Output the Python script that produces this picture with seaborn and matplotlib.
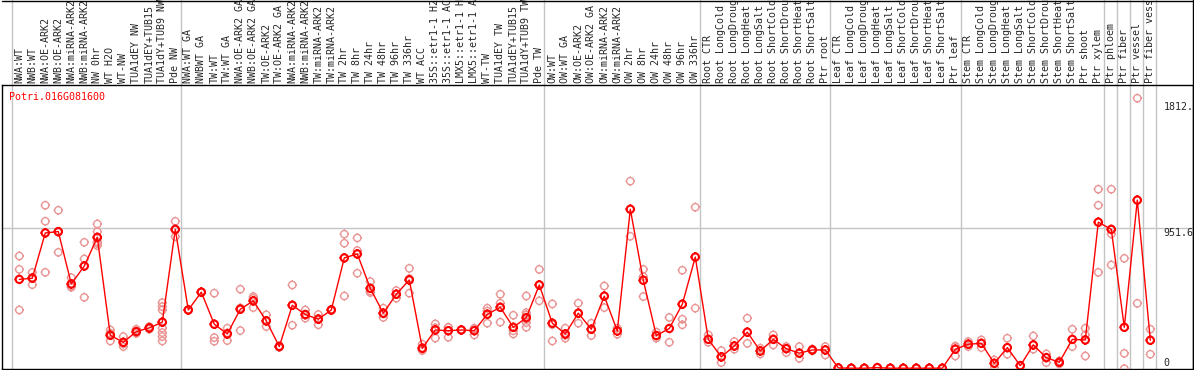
import numpy as np
import pandas as pd
import seaborn as sns
import matplotlib.pyplot as plt
from matplotlib.path import Path
from matplotlib.lines import Line2D
from matplotlib.transforms import blended_transform_factory


gene = 'Potri.016G081600'

labels = [
    'NWA:WT', 'NWB:WT', 'NWA:OE-ARK2', 'NWB:OE-ARK2', 'NWA:miRNA-ARK2', 'NWB:miRNA-ARK2',
    'NW 0hr', 'WT H2O', 'WT-NW', 'TUA1dEY NW', 'TUA1dEY+TUB15', 'TUA1dY+TUB9 NW', 'Pde NW',
    'NWA:WT GA', 'NWBWT GA', 'TW:WT', 'TW:WT GA', 'NWA:OE-ARK2 GA', 'NWB:OE-ARK2 GA',
    'TW:OE-ARK2', 'TW:OE-ARK2 GA', 'NWA:miRNA-ARK2', 'NWB:miRNA-ARK2', 'TW:miRNA-ARK2',
    'TW:miRNA-ARK2', 'TW 2hr', 'TW 8hr', 'TW 24hr', 'TW 48hr', 'TW 96hr', 'TW 336hr',
    'WT ACC', '35S::etr1-1 H2', '35S::etr1-1 AC', 'LMX5::etr1-1 H', 'LMX5::etr1-1 A',
    'WT-TW', 'TUA1dEY TW', 'TUA1dEY+TUB15', 'TUA1dY+TUB9 TW', 'Pde TW',
    'OW:WT', 'OW:WT GA', 'OW:OE-ARK2', 'OW:OE-ARK2 GA', 'OW:miRNA-ARK2', 'OW:miRNA-ARK2',
    'OW 2hr', 'OW 8hr', 'OW 24hr', 'OW 48hr', 'OW 96hr', 'OW 336hr',
    'Root CTR', 'Root LongCold', 'Root LongDroug', 'Root LongHeat', 'Root LongSalt',
    'Root ShortCold', 'Root ShortDrou', 'Root ShortHeat', 'Root ShortSalt', 'Ptr root',
    'Leaf CTR', 'Leaf LongCold', 'Leaf LongDroug', 'Leaf LongHeat', 'Leaf LongSalt',
    'Leaf ShortCold', 'Leaf ShortDrou', 'Leaf ShortHeat', 'Leaf ShortSalt', 'Ptr leaf',
    'Stem CTR', 'Stem LongCold', 'Stem LongDroug', 'Stem LongHeat', 'Stem LongSalt',
    'Stem ShortCold', 'Stem ShortDrou', 'Stem ShortHeat', 'Stem ShortSalt', 'Ptr shoot',
    'Ptr xylem', 'Ptr phloem', 'Ptr fiber', 'Ptr vessel', 'Ptr fiber vess',
]

group_sizes = [13, 28, 12, 10, 10, 11, 1, 1, 1, 1]

means = [
    604, 612, 920, 929, 573, 695, 890, 224, 176, 249, 274, 313, 944,
    396, 517, 299, 233, 401, 458, 322, 147, 428, 365, 333, 396, 750, 777, 543,
    374, 503, 600, 136, 260, 255, 260, 255, 367, 414, 278, 344, 566,
    306, 233, 374, 265, 490, 253, 1081, 598, 222, 270, 435, 756,
    196, 77, 151, 245, 117, 196, 133, 102, 124, 124,
    2, 0, 0, 4, 0, 0, 0, 0, 0, 129,
    163, 169, 33, 140, 17, 158, 72, 40, 196, 192, 993,
    944, 278, 1143, 190,
]

reps = [
    [763, 672, 396], [651, 617, 568], [1108, 999, 652], [1074, 788, 925],
    [616, 559, 550], [856, 743, 482], [981, 929, 860, 849, 834], [260, 237, 185],
    [215, 165, 147], [265, 237, 249], [283, 265, 274],
    [446, 419, 396, 272, 242, 215, 185], [999, 895, 940],
    [400, 392, 396], [520, 515, 516], [510, 208, 183], [272, 188, 240],
    [537, 256, 410], [487, 412, 475], [363, 283, 320], [152, 147, 142],
    [566, 292, 428], [396, 340, 360], [365, 295, 338], [400, 392, 396],
    [912, 850, 491], [886, 800, 646], [589, 514, 525], [408, 345, 370],
    [528, 476, 505], [679, 510, 610], [163, 120, 125], [301, 204, 275],
    [278, 210, 277], [262, 258, 260], [226, 272, 267], [408, 306, 388],
    [503, 442, 313], [360, 255, 233], [491, 378, 363, 333, 310, 278], [672, 458, 568],
    [437, 185, 296], [272, 204, 223], [442, 306, 374], [306, 222], [559, 412],
    [272, 231], [1272, 897], [672, 623, 487], [245, 204], [345, 176],
    [666, 333, 295], [1095, 408],
    [226, 176], [120, 38], [181, 129], [340, 169], [136, 97], [226, 158],
    [147, 106], [147, 67], [130, 118], [147, 90],
    [3, 1], [0, 0], [0, 0], [6, 2], [0, 0], [0, 0], [0, 0], [0, 0], [0, 0],
    [147, 83, 150],
    [181, 147], [192, 140], [56, 0], [204, 95], [20, 14], [219, 129], [97, 38],
    [49, 29], [265, 147], [272, 226, 83], [1217, 1108, 652],
    [1217, 913, 702], [747, 101, -3], [1836, 441], [265, 95],
]

tick_values = [1812, 951.6, 0]
tick_labels = ['1812.', '951.6', '0']

sns.set_style('white')
plt.rcParams['font.family'] = ['DejaVu Sans Mono']
fs = 7.2

pos = np.arange(len(labels))
mean_df = pd.DataFrame({'pos': pos, 'expr': means})
rep_df = pd.DataFrame([(i, v) for i, r in enumerate(reps) for v in r],
                      columns=['pos', 'expr'])

W, H = 1194, 370
fig = plt.figure(figsize=(W / 100, H / 100), dpi=100)
ax = fig.add_axes([1.7 / W, 1 / H, 1191.3 / W, 284 / H])
ax.set_xlim((1.7 - 19.3) / 13.0, (1193 - 19.3) / 13.0)
ax.set_ylim(-5.5, 1926)

# circle marker with four little ticks
ring = Path.unit_circle()
t = 1.3
ticks = Path([(0, 1), (0, t), (0, -1), (0, -t), (1, 0), (t, 0), (-1, 0), (-t, 0)],
             [Path.MOVETO, Path.LINETO] * 4)
mk = Path.make_compound_path(ring, ticks)

# group separators, running up through the label area
bounds = np.cumsum([0] + group_sizes) - 0.6
for b in bounds:
    ax.axvline(b, ymin=0, ymax=369 / 284, color='#c4c4c4', lw=1, clip_on=False, zorder=1)
ax.axhline(951.6, color='#c4c4c4', lw=1, zorder=1)

sns.scatterplot(data=rep_df, x='pos', y='expr', marker=mk, s=46, color='#ea9494',
                edgecolor='#ea9494', facecolor='none', linewidth=1, ax=ax,
                legend=False, zorder=3)
sns.lineplot(data=mean_df, x='pos', y='expr', color='#ff0000', lw=1,
             estimator=None, sort=False, ax=ax, zorder=4)
sns.scatterplot(data=mean_df, x='pos', y='expr', marker=mk, s=46, color='#ff0000',
                edgecolor='#ff0000', facecolor='none', linewidth=1.5, ax=ax,
                legend=False, zorder=5)

ax.set_xticks([])
ax.set_yticks([])
ax.set_xlabel('')
ax.set_ylabel('')
for s in ax.spines.values():
    s.set_color('black')
    s.set_linewidth(1)

trans = blended_transform_factory(ax.transData, ax.transAxes)
for i, lab in enumerate(labels):
    ax.text(i, 1 + 2 / 284, lab, transform=trans, rotation=90, ha='center',
            va='bottom', fontsize=fs, clip_on=False)

for v, lab in zip(tick_values, tick_labels):
    ax.text((1163.3 - 19.3) / 13.0, v, lab, ha='left',
            va='bottom' if v == 0 else 'top', fontsize=fs, zorder=6)

ax.text(7.6 / 1191.3, 0.9588, gene, transform=ax.transAxes, color='#ff0000',
        ha='left', va='center', fontsize=fs)

# outer frame of the label area
fig.add_artist(Line2D([1.7 / W, 1193 / W], [1 - 0.5 / H, 1 - 0.5 / H], color='black', lw=1))
fig.add_artist(Line2D([1193 / W, 1193 / W], [1 / H, 1], color='black', lw=1))

fig.savefig('out.png', dpi=100)
